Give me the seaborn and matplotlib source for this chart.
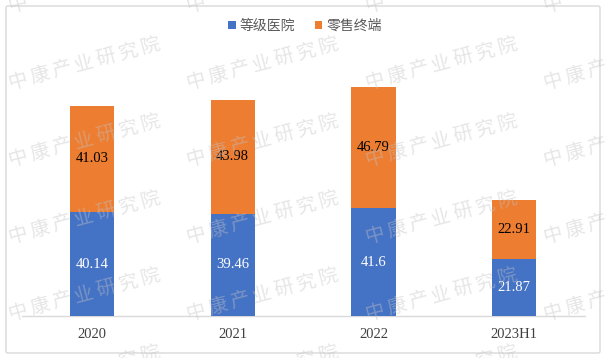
import math
import matplotlib
matplotlib.use("Agg")
import matplotlib.pyplot as plt
import seaborn as sns
import pandas as pd
from matplotlib.patches import FancyBboxPatch, Patch

categories = ["2020", "2021", "2022", "2023H1"]
hospital = [40.14, 39.46, 41.6, 21.87]
retail = [41.03, 43.98, 46.79, 22.91]
series_names = ["等级医院", "零售终端"]
watermark = "中康产业研究院"

BLUE = "#4472C4"
ORANGE = "#ED7D31"

sns.set_theme(style="white")
plt.rcParams['font.family'] = ['Noto Sans CJK SC', 'DejaVu Sans']

W, H = 609, 358
fig = plt.figure(figsize=(W / 100, H / 100), dpi=100)
ax = fig.add_axes([21.6 / W, (H - 316) / H, 563 / W, 259 / H])

df = pd.DataFrame({"cat": categories, "hospital": hospital, "retail": retail})
df["total"] = df["hospital"] + df["retail"]

sns.barplot(data=df, x="cat", y="total", color=ORANGE, width=0.313, ax=ax,
            saturation=1, zorder=2, linewidth=0, edgecolor="none")
sns.barplot(data=df, x="cat", y="hospital", color=BLUE, width=0.313, ax=ax,
            saturation=1, zorder=3, linewidth=0, edgecolor="none")

ax.set_xlim(-0.5, len(categories) - 0.5)
ax.set_ylim(0, 100)
ax.set_xlabel("")
ax.set_ylabel("")
ax.set_yticks([])
for s in ["top", "right", "left"]:
    ax.spines[s].set_visible(False)
ax.spines["bottom"].set_color("#d9d9d9")
ax.spines["bottom"].set_linewidth(1.0)
ax.tick_params(axis="x", length=0, pad=9)
for lab in ax.get_xticklabels():
    lab.set_fontfamily("Liberation Serif")
    lab.set_fontsize(10.5)
    lab.set_color("#404040")

for i, (h, r) in enumerate(zip(hospital, retail)):
    ax.text(i, h / 2, f"{h:g}", ha="center", va="center", color="white",
            fontsize=10.5, family="Liberation Serif", zorder=5)
    ax.text(i, h + r / 2, f"{r:g}", ha="center", va="center", color="black",
            fontsize=10.5, family="Liberation Serif", zorder=5)

handles = [Patch(facecolor=BLUE, edgecolor="none"), Patch(facecolor=ORANGE, edgecolor="none")]
leg = fig.legend(handles, series_names, loc="center", bbox_to_anchor=(305 / W, 1 - 26 / H),
                 ncol=2, frameon=False, fontsize=10, handlelength=0.55, handleheight=0.55,
                 handletextpad=0.3, columnspacing=1.4)
for t in leg.get_texts():
    t.set_color("#595959")

# watermark grid (characters spaced along a 15 degree line)
ang = 15
step = 22.8
ca, sa = math.cos(math.radians(ang)), math.sin(math.radians(ang))
for xw in [10, 188, 367, 545]:
    for yw in [12, 89, 166, 243, 320, 397]:
        for k, ch in enumerate(watermark):
            px = xw + k * step * ca
            py = yw - k * step * sa
            if px > W - 10 or py < 8 or py > H + 12:
                continue
            fig.text(px / W, 1 - py / H, ch, rotation=ang, rotation_mode="anchor",
                     ha="left", va="baseline", fontsize=14, color="#c4c4c4",
                     alpha=0.42, fontweight="light", zorder=10)

border = FancyBboxPatch((6 / W, 5 / H), 594 / W, 347 / H,
                        boxstyle="round,pad=0,rounding_size=0.004",
                        transform=fig.transFigure, fill=False, edgecolor="#d9d9d9",
                        linewidth=1.0)
fig.patches.append(border)

fig.savefig("out.png", dpi=100)
